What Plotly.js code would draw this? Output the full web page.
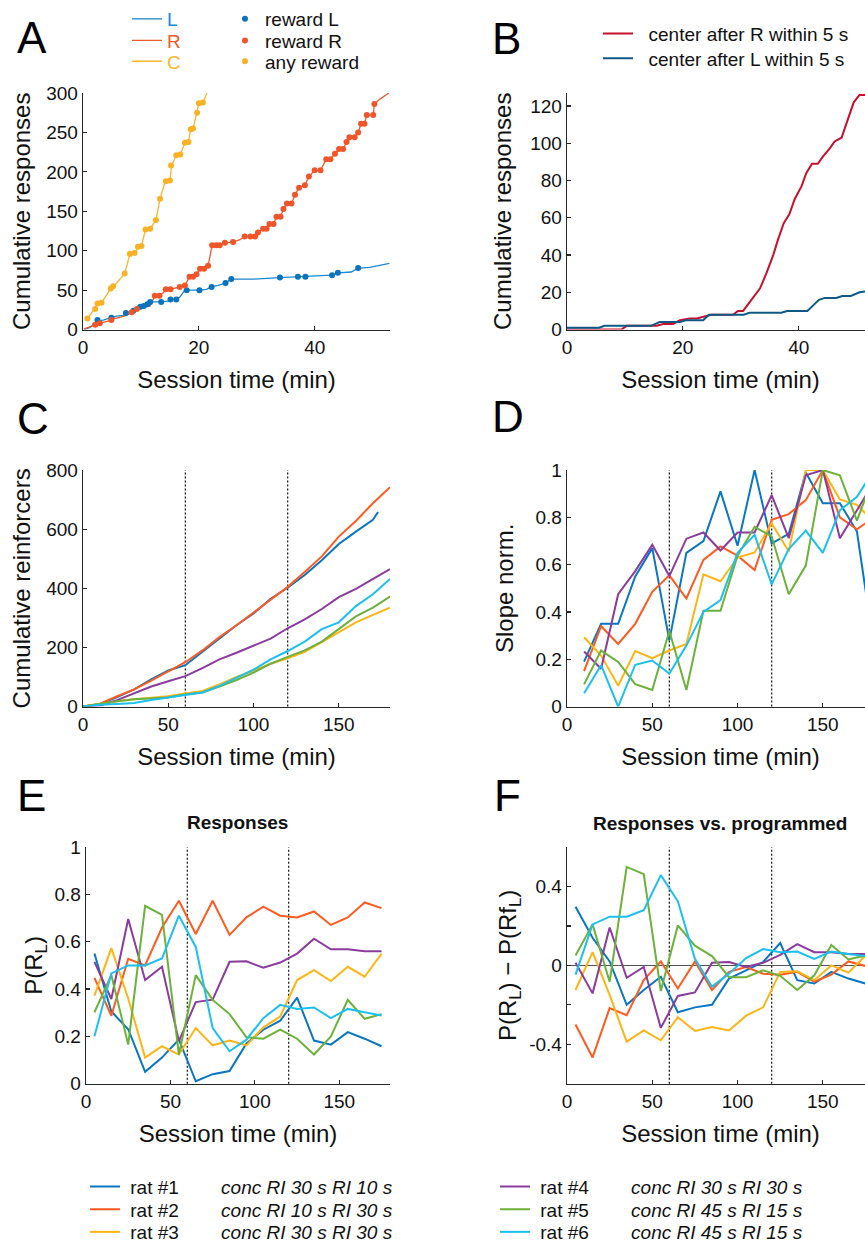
<!DOCTYPE html>
<html><head><meta charset="utf-8">
<script src="https://cdn.plot.ly/plotly-3.0.1.min.js"></script>
<style>html,body{margin:0;padding:0;overflow:hidden;background:#fff;width:865px;height:1251px}#chart{width:880px;height:1251px}</style>
</head><body><div id="chart"></div>
<script>
// ---------- Panel A: cumulative responses (one session) ----------
const aTimeL = [0.2,1.3,2.4,3.5,4.9,5.8,7.0,7.5,8.5,9.3,9.9,10.5,11.1,11.6,12.2,13.5,14.7,15.1,16.1,16.7,17.6,19.0,20.1,21.3,22.2,23.3,24.6,25.6,29.4,34.0,37.1,38.4,42.6,43.0,44.0,46.3,47.5,49.5,52.9];
const aCumL  = [0,3,11,12,15,17,18,21,24,26,29,30,32,35,35,35,36,38,38,41,50,50,50,51,54,56,59,64,64,66,67,67,68,69,72,73,78,79,84];
const aTimeR = [0.2,0.9,2.1,2.9,4.9,5.5,7.5,8.4,9.3,10.4,11.6,12.4,13.2,13.9,14.3,15.1,16.7,17.6,18.4,19.0,19.6,20.2,20.9,21.6,22.3,23.6,24.5,25.9,27.1,27.9,28.9,29.7,30.2,31.1,31.7,32.2,32.9,33.4,34.1,34.6,35.2,36.0,36.6,37.3,38.3,39.0,40.0,41.0,42.0,42.7,43.5,44.2,44.9,45.5,46.0,46.9,47.5,48.0,48.6,49.0,50.1,50.3,51.2,52.8];
const aCumR  = [1,3,6,8,12,14,18,22,26,28,30,43,43,47,51,51,54,56,67,67,70,77,77,81,107,107,110,111,114,118,118,118,123,128,128,134,134,143,143,153,160,160,171,180,183,194,202,202,216,216,223,229,229,238,244,244,250,261,261,272,272,286,292,300];
const aTimeC = [0.7,2.0,2.6,3.2,4.8,5.3,7.2,8.1,8.9,9.6,10.1,10.8,11.6,12.6,13.3,14.2,15.0,15.3,16.1,16.8,17.6,18.2,18.6,19.0,19.7,20.0,20.7,21.4];
const aCumC  = [13,26,33,34,52,55,71,96,97,105,106,127,128,139,166,188,189,208,221,222,237,238,254,255,275,287,288,300];
const rewLTime = [2.5,4.9,7.4,8.7,9.9,10.5,11.1,11.6,13.5,15.1,16.1,17.9,20.1,22.2,24.6,25.6,34.0,37.1,38.4,43.0,44.0,47.5];
const rewLCum  = [12,15,21,24,29,30,32,35,35,38,38,50,50,54,59,64,66,67,67,69,72,78];
const rewRTime = [2.1,2.9,4.9,8.4,9.3,12.4,13.2,14.3,15.1,16.7,17.6,18.4,19.0,19.6,20.2,20.9,21.6,22.3,23.0,23.6,24.5,25.9,27.9,28.9,29.7,30.2,31.1,31.7,32.2,32.9,33.4,34.1,34.6,35.2,36.0,36.6,37.3,38.3,39.0,40.0,41.0,42.0,42.7,43.5,44.2,44.9,45.5,46.0,46.9,47.5,48.0,48.6,49.0,50.1,50.3];
const rewRCum  = [6,8,12,22,26,43,43,51,51,54,56,67,67,70,77,77,81,107,107,107,110,111,118,118,118,123,128,128,134,134,143,143,153,160,160,171,180,183,194,202,202,216,216,223,229,229,238,244,244,250,261,261,272,272,286];
const rewAnyTime = [0.75,2.1,2.5,3.2,4.8,5.2,7.2,8.1,8.9,9.5,10.1,10.8,11.6,12.6,13.3,14.3,15.0,15.2,16.1,16.8,17.6,18.2,18.6,19.0,19.7,20.0,20.7];
const rewAnyCum  = [14,26,33,34,52,55,71,96,97,105,106,127,128,139,166,188,189,208,221,222,237,238,254,255,275,287,288];

// ---------- Panel B ----------
const bTimeR = [0,9.4,10.3,15.5,16.6,18.3,19.5,21.2,22.4,23.5,24.9,28.7,29.5,30.4,31.6,32.4,33.3,34.4,35.6,36.4,37.4,38.4,39.3,40.5,41.3,42.3,43.3,44.2,45.3,46.2,47.4,48.5,49.5,50.5,51.4,53];
const bCumR  = [0,0,2,2,3,3,5,6,6,7,8,8,10,10,15,18,22,30,40,48,57,62,70,77,84,89,89,93,97,101,103,113,122,126,126,127];
const bTimeL = [0,5.5,6.5,9.5,14.5,16,17.5,19.5,20.5,23.5,24.5,30.5,31.5,37,38,41.5,42.5,43.5,44.5,46.5,47.5,49,50.5,53];
const bCumL  = [1,1,2,2,2,4,4,4,5,5,8,8,9,9,10,10,13,16,17,17,18,18,20,21];

// ---------- Rats (C-F) ----------
const ratNames = ['rat #1','rat #2','rat #3','rat #4','rat #5','rat #6'];
const ratSchedules = ['conc RI 30 s RI 10 s','conc RI 10 s RI 30 s','conc RI 30 s RI 30 s','conc RI 30 s RI 30 s','conc RI 45 s RI 15 s','conc RI 45 s RI 15 s'];
const phaseBoundaries = [60, 120];

// Panel C: cumulative reinforcers
const cTime = [0,10,20,30,40,50,60,70,80,90,100,110,120,130,140,150,160,170,180];
const cTimeRat1 = [0,10,20,30,40,50,60,70,80,90,100,110,120,130,140,150,160,170,173];
const cRat1 = [0,8,32,58,92,122,140,185,232,275,315,365,402,445,495,550,592,632,658];
const cRat2 = [0,10,35,58,88,118,150,190,235,275,318,362,405,455,508,575,628,688,742];
const cRat3 = [0,10,18,25,30,35,44,53,75,100,122,145,163,185,218,252,285,310,335];
const cRat4 = [0,4,22,45,68,86,103,130,160,182,205,230,265,295,330,370,398,432,465];
const cRat5 = [0,10,18,25,29,31,42,48,68,90,115,145,168,190,220,262,305,335,372];
const cRat6 = [0,6,9,12,22,30,39,48,70,98,125,160,188,220,262,285,340,380,432];

// Panel D: normalized slope
const dTime = [10,20,30,40,50,60,70,80,90,100,110,120,130,140,150,160,170,180];
const dRat1 = [0.19,0.35,0.35,0.55,0.67,0.28,0.65,0.70,0.91,0.68,1.0,0.69,0.73,0.99,0.86,0.86,0.74,0.25];
const dRat2 = [0.15,0.34,0.265,0.35,0.485,0.555,0.457,0.62,0.677,0.638,0.577,0.79,0.814,0.873,1.0,0.80,0.75,0.80];
const dRat3 = [0.293,0.216,0.088,0.235,0.205,0.237,0.265,0.559,0.53,0.63,0.652,0.775,0.656,1.0,1.0,0.876,0.853,0.78];
const dRat4 = [0.233,0.16,0.475,0.573,0.684,0.552,0.71,0.736,0.66,0.736,0.736,0.894,0.712,0.978,1.0,0.712,0.83,0.95];
const dRat5 = [0.094,0.237,0.189,0.095,0.07,0.32,0.07,0.405,0.405,0.638,0.76,0.72,0.475,0.596,1.0,0.978,0.786,0.98];
const dRat6 = [0.056,0.175,0.0,0.177,0.195,0.14,0.258,0.40,0.45,0.65,0.726,0.517,0.666,0.744,0.65,0.83,0.887,1.0];

// Panel E: P(R_L)
const eTime = [5,15,25,35,45,55,65,75,85,95,105,115,125,135,145,155,165,175];
const eRat1 = [0.55,0.305,0.23,0.05,0.11,0.186,0.01,0.04,0.053,0.17,0.228,0.266,0.364,0.182,0.165,0.218,0.19,0.158];
const eRat2 = [0.447,0.287,0.528,0.50,0.66,0.773,0.633,0.773,0.629,0.703,0.748,0.71,0.703,0.728,0.671,0.703,0.766,0.742];
const eRat3 = [0.372,0.573,0.36,0.11,0.158,0.123,0.235,0.162,0.182,0.162,0.238,0.284,0.438,0.48,0.434,0.494,0.452,0.55];
const eRat4 = [0.515,0.358,0.696,0.438,0.494,0.18,0.345,0.355,0.515,0.517,0.49,0.512,0.55,0.613,0.568,0.568,0.56,0.56];
const eRat5 = [0.302,0.459,0.165,0.752,0.714,0.123,0.459,0.354,0.294,0.196,0.19,0.228,0.19,0.123,0.2,0.354,0.274,0.294];
const eRat6 = [0.2,0.466,0.5,0.5,0.529,0.71,0.578,0.235,0.137,0.186,0.277,0.333,0.316,0.322,0.277,0.316,0.302,0.288];

// Panel F: P(R_L) - P(Rf_L)
const fTime = [5,15,25,35,45,55,65,75,85,95,105,115,125,135,145,155,165,175];
const fRat1 = [0.297,0.14,0.02,-0.2,-0.125,-0.058,-0.238,-0.213,-0.2,-0.067,-0.025,0.017,0.113,-0.075,-0.092,-0.033,-0.067,-0.092];
const fRat2 = [-0.3,-0.467,-0.217,-0.253,-0.075,0.02,-0.117,0.02,-0.125,-0.033,-0.008,-0.042,-0.047,-0.033,-0.083,-0.047,0.02,-0.003];
const fRat3 = [-0.125,0.067,-0.15,-0.387,-0.33,-0.38,-0.263,-0.333,-0.313,-0.33,-0.255,-0.213,-0.033,-0.03,-0.075,0.0,-0.037,0.05];
const fRat4 = [0.013,-0.142,0.192,-0.063,-0.008,-0.317,-0.155,-0.137,0.013,0.017,-0.008,0.013,0.053,0.108,0.067,0.067,0.058,0.058];
const fRat5 = [0.05,0.208,-0.083,0.5,0.463,-0.13,0.203,0.1,0.047,-0.06,-0.06,-0.025,-0.053,-0.125,-0.05,0.103,0.03,0.05];
const fRat6 = [-0.047,0.208,0.247,0.247,0.28,0.458,0.325,0.033,-0.108,-0.042,0.037,0.083,0.067,0.07,0.033,0.07,0.058,0.047];

const fYTicks = [-0.4,0,0.4];
const fYTickText = ['-0.4','0','0.4'];
const fYMinorTicks = [-0.2,0.2];

// ---------- styling ----------
const ratColors = ['#0A76C0','#FF5A1F','#FDB515','#8A3B9C','#6BB13A','#1CC0EF'];
const FONT = 'Liberation Sans, Arial, Helvetica, sans-serif';
const W = 880, H = 1251;
const xd = (p0,p1) => [p0/W, p1/W];
const yd = (top,bot) => [1-bot/H, 1-top/H];
const NB = '\u00A0';

function axis(domain, range, anchor, extra){
  return Object.assign({
    domain, range, anchor, showline:true, linecolor:'#262626', linewidth:1.3,
    ticks:'inside', ticklen:4, tickwidth:1.2, tickcolor:'#262626',
    showgrid:false, zeroline:false, fixedrange:true,
    tickfont:{size:19, color:'#111', family:FONT}
  }, extra||{});
}
const tfont = {size:24, color:'#111', family:FONT};
const xTitle = {text:'Session time (min)', font:tfont, standoff:14};
const yTitle = (t, s) => ({text:t, font:tfont, standoff:s});

const traces = [];
// A lines
traces.push({x:aTimeL, y:aCumL, mode:'lines', line:{color:'#1C87D1', width:1.3}, xaxis:'x', yaxis:'y', legend:'legend', name:"<span style='color:#1C87D1'>L</span>"});
traces.push({x:aTimeR, y:aCumR, mode:'lines', line:{color:'#F15A2B', width:1.3}, xaxis:'x', yaxis:'y', legend:'legend2', name:"<span style='color:#F15A2B'>R</span>"});
traces.push({x:aTimeC, y:aCumC, mode:'lines', line:{color:'#FBB52B', width:1.3}, xaxis:'x', yaxis:'y', legend:'legend3', name:"<span style='color:#FBB52B'>C</span>"});
// A reward dots
traces.push({x:rewLTime, y:rewLCum, mode:'markers', marker:{color:'#0A73BE', size:6}, xaxis:'x', yaxis:'y', legend:'legend4', name:'reward L'});
traces.push({x:rewRTime, y:rewRCum, mode:'markers', marker:{color:'#F0552A', size:6}, xaxis:'x', yaxis:'y', legend:'legend5', name:'reward R'});
traces.push({x:rewAnyTime, y:rewAnyCum, mode:'markers', marker:{color:'#F9B225', size:6}, xaxis:'x', yaxis:'y', legend:'legend6', name:'any reward'});
// B
traces.push({x:bTimeR, y:bCumR, mode:'lines', line:{color:'#C8102E', width:2}, xaxis:'x2', yaxis:'y2', legend:'legend7', name:NB+NB+'center after R within 5 s'});
traces.push({x:bTimeL, y:bCumL, mode:'lines', line:{color:'#0E5A85', width:2}, xaxis:'x2', yaxis:'y2', legend:'legend8', name:NB+NB+'center after L within 5 s'});

const cData = [cRat1,cRat2,cRat3,cRat4,cRat5,cRat6];
const dData = [dRat1,dRat2,dRat3,dRat4,dRat5,dRat6];
const eData = [eRat1,eRat2,eRat3,eRat4,eRat5,eRat6];
const fData = [fRat1,fRat2,fRat3,fRat4,fRat5,fRat6];
for(let i=0;i<6;i++){
  const nm = NB + ratNames[i] + NB.repeat(8) + '<i>' + ratSchedules[i] + '</i>';
  traces.push({x: i===0 ? cTimeRat1 : cTime, y:cData[i], mode:'lines', line:{color:ratColors[i], width:2}, xaxis:'x3', yaxis:'y3', legend:'legend'+(9+i), name:nm});
}
for(let i=0;i<6;i++) traces.push({x:dTime, y:dData[i], mode:'lines', line:{color:ratColors[i], width:2}, xaxis:'x4', yaxis:'y4', showlegend:false, name:ratNames[i]});
for(let i=0;i<6;i++) traces.push({x:eTime, y:eData[i], mode:'lines', line:{color:ratColors[i], width:2}, xaxis:'x5', yaxis:'y5', showlegend:false, name:ratNames[i]});
for(let i=0;i<6;i++) traces.push({x:fTime, y:fData[i], mode:'lines', line:{color:ratColors[i], width:2}, xaxis:'x6', yaxis:'y6', showlegend:false, name:ratNames[i]});

const shapes = [];
['3','4','5','6'].forEach(k => phaseBoundaries.forEach(t => shapes.push({
  type:'line', xref:'x'+k, yref:'y'+k+' domain', x0:t, x1:t, y0:0, y1:1,
  line:{color:'#222', width:1.3, dash:'2px,2px'}, layer:'below'})));

const legBase = {bgcolor:'rgba(0,0,0,0)', borderwidth:0, font:{size:19, color:'#111', family:FONT}, xanchor:'left', yanchor:'middle', tracegroupgap:0, itemclick:false, itemdoubleclick:false};
const leg = (px, py) => Object.assign({}, legBase, {x:px/W, y:1-py/H});

const letters = [['A',15,36],['B',490,37],['C',15,421],['D',490,419],['E',15,802],['F',492,802]];
const annotations = letters.map(([t,px,py]) => ({text:t, xref:'paper', yref:'paper', x:px/W, y:1-py/H, xanchor:'left', yanchor:'middle', showarrow:false, font:{size:44, color:'#000', family:FONT}}));
annotations.push({text:'<b>Responses</b>', xref:'paper', yref:'paper', x:237/W, y:1-829/H, xanchor:'center', yanchor:'middle', showarrow:false, font:{size:19, color:'#111', family:FONT}});
annotations.push({text:'<b>Responses vs. programmed</b>', xref:'paper', yref:'paper', x:720/W, y:1-830/H, xanchor:'center', yanchor:'middle', showarrow:false, font:{size:19, color:'#111', family:FONT}});

const layout = {
  width:W, height:H, margin:{l:0,r:0,t:0,b:0}, paper_bgcolor:'#fff', plot_bgcolor:'rgba(0,0,0,0)',
  font:{family:FONT, color:'#111'}, showlegend:true,
  xaxis: axis(xd(83,390), [0,53], 'y', {tickvals:[0,20,40], title:xTitle}),
  yaxis: axis(yd(92,331), [0,300], 'x', {tickvals:[0,50,100,150,200,250,300], title:yTitle('Cumulative responses', 8)}),
  xaxis2: axis(xd(567,874), [0,53], 'y2', {tickvals:[0,20,40], title:xTitle}),
  yaxis2: axis(yd(92,331), [0,127], 'x2', {tickvals:[0,20,40,60,80,100,120], title:yTitle('Cumulative responses', 11)}),
  xaxis3: axis(xd(83,390), [0,180], 'y3', {tickvals:[0,50,100,150], title:xTitle}),
  yaxis3: axis(yd(473,712), [0,800], 'x3', {tickvals:[0,200,400,600,800], title:yTitle('Cumulative reinforcers', 8)}),
  xaxis4: axis(xd(567,874), [0,180], 'y4', {tickvals:[0,50,100,150], title:xTitle}),
  yaxis4: axis(yd(473,712), [0,1], 'x4', {tickvals:[0,0.2,0.4,0.6,0.8,1], title:yTitle('Slope norm.', 15)}),
  xaxis5: axis(xd(86,390), [0,180], 'y5', {tickvals:[0,50,100,150], title:xTitle}),
  yaxis5: axis(yd(854,1093), [0,1], 'x5', {tickvals:[0,0.2,0.4,0.6,0.8,1], title:yTitle('P(R<sub>L</sub>)', 5)}),
  xaxis6: axis(xd(567,874), [0,180], 'y6', {tickvals:fYTicks.length ? [0,50,100,150] : [], title:xTitle}),
  yaxis6: axis(yd(854,1093), [-0.6,0.6], 'x6', {tickvals:fYTicks, ticktext:fYTickText,
    minor:{tickvals:fYMinorTicks, ticks:'inside', ticklen:4, tickwidth:1.2, tickcolor:'#262626', showgrid:false},
    zeroline:true, zerolinecolor:'#555', zerolinewidth:1.5, title:yTitle('P(R<sub>L</sub>) \u2212 P(Rf<sub>L</sub>)', 5)}),
  legend: leg(127,17), legend2: leg(127,39), legend3: leg(127,60),
  legend4: leg(225,17), legend5: leg(225,39), legend6: leg(225,60),
  legend7: leg(598,32), legend8: leg(598,57),
  legend9: leg(85,1197), legend10: leg(85,1220), legend11: leg(85,1243),
  legend12: leg(495,1197), legend13: leg(495,1220), legend14: leg(495,1243),
  shapes, annotations
};
Plotly.newPlot('chart', traces, layout, {staticPlot:true, displayModeBar:false});
</script></body></html>
